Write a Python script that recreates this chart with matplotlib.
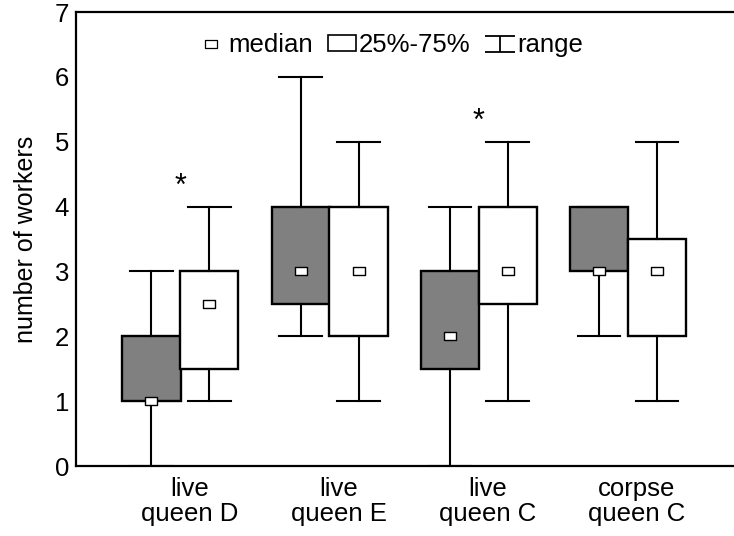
import matplotlib
matplotlib.use("Agg")
import matplotlib.pyplot as plt
from matplotlib.lines import Line2D
from matplotlib.patches import Patch
from matplotlib.path import Path

plt.rcParams['font.family'] = ['Liberation Sans', 'DejaVu Sans']

# Categories and per-box five-number summaries (min, q1, median, q3, max)
categories = ["live\nqueen D", "live\nqueen E", "live\nqueen C", "corpse\nqueen C"]

gray_min = [0, 2, 0, 2]
gray_q1 = [1, 2.5, 1.5, 3]
gray_med = [1, 3, 2, 3]
gray_q3 = [2, 4, 3, 4]
gray_max = [3, 6, 4, 4]

white_min = [1, 1, 1, 1]
white_q1 = [1.5, 2, 2.5, 2]
white_med = [2.5, 3, 3, 3]
white_q3 = [3, 4, 4, 3.5]
white_max = [4, 5, 5, 5]

# significance marks: (group index, height)
star_groups = [0, 2]
star_heights = [4.3, 5.3]

yticks = [0, 1, 2, 3, 4, 5, 6, 7]

fig = plt.figure(figsize=(7.34, 5.36), dpi=100)
ax = fig.add_axes([76 / 734, 1 - 466 / 536, 1 - 76 / 734 + 0.01, (466 - 12) / 536])

offset = 0.194
width = 0.39
capw = 0.285

# flat rectangle used for the median symbol
med_marker = Path([(-1, -0.72), (1, -0.72), (1, 0.72), (-1, 0.72), (-1, -0.72)],
                  [Path.MOVETO, Path.LINETO, Path.LINETO, Path.LINETO, Path.CLOSEPOLY])


def stats(mins, q1s, meds, q3s, maxs):
    return [dict(whislo=a, q1=b, med=c, q3=d, whishi=e, fliers=[])
            for a, b, c, d, e in zip(mins, q1s, meds, q3s, maxs)]


n = len(categories)
gray_pos = [i - offset for i in range(n)]
white_pos = [i + offset for i in range(n)]

for st, pos, fc in [(stats(gray_min, gray_q1, gray_med, gray_q3, gray_max), gray_pos, '#808080'),
                    (stats(white_min, white_q1, white_med, white_q3, white_max), white_pos, 'white')]:
    ax.bxp(st, positions=pos, widths=width, capwidths=capw, patch_artist=True,
           showfliers=False,
           boxprops=dict(facecolor=fc, edgecolor='black', linewidth=1.7),
           whiskerprops=dict(color='black', linewidth=1.5),
           capprops=dict(color='black', linewidth=1.5),
           medianprops=dict(linestyle='none'),
           manage_ticks=False)

ax.plot(gray_pos, gray_med, linestyle='none', marker=med_marker, markersize=8,
        mfc='white', mec='black', mew=1.0, zorder=5)
ax.plot(white_pos, white_med, linestyle='none', marker=med_marker, markersize=8,
        mfc='white', mec='black', mew=1.0, zorder=5)

for g, h in zip(star_groups, star_heights):
    ax.text(g, h, "*", ha='center', va='center', fontsize=22)

ax.set_xlim(-0.70, 3.76)
ax.set_ylim(0, 7)
ax.set_yticks(yticks)
ax.set_xticks([i + 0.06 for i in range(n)])
ax.set_xticklabels(categories, fontsize=18.5, linespacing=1.05)
ax.tick_params(axis='both', length=0, labelsize=18.5)
ax.tick_params(axis='y', pad=5)
ax.tick_params(axis='x', pad=8)
ax.set_ylabel("number of workers", fontsize=18, labelpad=12)
ax.spines['right'].set_visible(False)
for s in ['left', 'top', 'bottom']:
    ax.spines[s].set_linewidth(1.6)

# legend symbols
range_marker = Path([(-1, 0.5), (1, 0.5), (0, 0.5), (0, -0.5), (-1, -0.5), (1, -0.5)],
                    [Path.MOVETO, Path.LINETO, Path.MOVETO, Path.LINETO, Path.MOVETO, Path.LINETO])
handles = [
    Line2D([], [], linestyle='none', marker=med_marker, markersize=8, mfc='white', mec='black', mew=0.9),
    Patch(facecolor='white', edgecolor='black', linewidth=1.2),
    Line2D([], [], linestyle='none', marker=range_marker, markersize=22, mec='black', mew=1.3),
]
ax.legend(handles, ["median", "25%-75%", "range"], ncol=3, frameon=False,
          loc='center', bbox_to_anchor=(0.472, 0.927), fontsize=18.5,
          handlelength=1.1, handletextpad=0.1, columnspacing=0.6, handleheight=0.6)

fig.savefig("out.png", dpi=100)
